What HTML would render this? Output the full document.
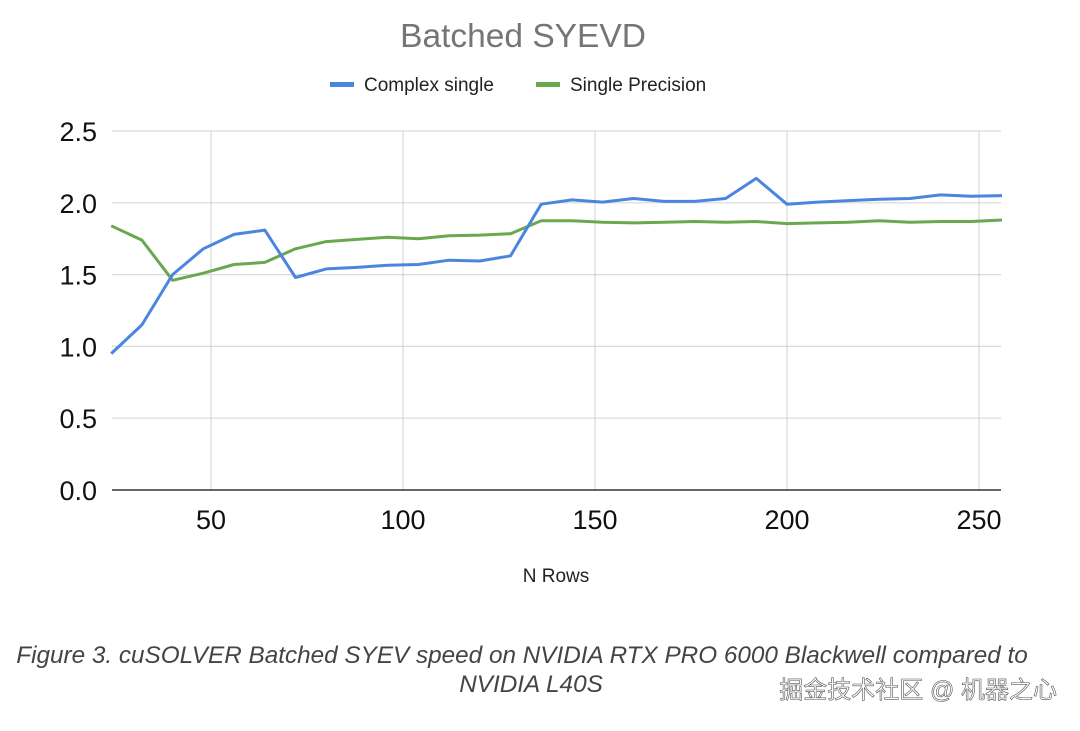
<!DOCTYPE html>
<html><head><meta charset="utf-8"><style>
body{margin:0;background:#fff;width:1080px;height:726px;overflow:hidden;font-family:"Liberation Sans",sans-serif}
</style></head><body>
<svg id="s" width="1080" height="726" xmlns="http://www.w3.org/2000/svg" font-family="Liberation Sans, sans-serif">
<text x="523" y="47" font-size="33.5" fill="#757575" text-anchor="middle">Batched SYEVD</text>
<rect x="330" y="82" width="24" height="5" fill="#4a86e0"/>
<text x="364" y="91" font-size="19" fill="#222">Complex single</text>
<rect x="536" y="82" width="24" height="5" fill="#6aa84f"/>
<text x="570" y="91" font-size="19" fill="#222">Single Precision</text>
<g id="grid" stroke="#d9d9d9" stroke-width="1.2"></g>
<line x1="112" y1="490" x2="1001" y2="490" stroke="#333" stroke-width="1.5"/>
<g id="lab" font-size="27" fill="#111"></g>
<text x="556" y="582" font-size="19" fill="#222" text-anchor="middle">N Rows</text>
<path id="g" fill="none" stroke="#6aa84f" stroke-width="3" stroke-linejoin="round"/>
<path id="b" fill="none" stroke="#4a86e0" stroke-width="3" stroke-linejoin="round"/>
<text x="522" y="663" font-size="24.3" font-style="italic" fill="#444" text-anchor="middle">Figure 3. cuSOLVER Batched SYEV speed on NVIDIA RTX PRO 6000 Blackwell compared to</text>
<text x="531" y="692" font-size="24.3" font-style="italic" fill="#444" text-anchor="middle">NVIDIA L40S</text>
<text x="1057" y="698" font-size="24" fill="#fff" stroke="#555" stroke-width="0.6" text-anchor="end" font-family="Liberation Sans, Noto Sans CJK SC, sans-serif">掘金技术社区 @ 机器之心</text>
</svg>
<script>
var X=function(v){return 211+(v-50)*3.84},Y=function(v){return 490-v*143.6};
var ns="http://www.w3.org/2000/svg",gr=document.getElementById('grid'),lab=document.getElementById('lab');
function el(p,t,a,txt){var e=document.createElementNS(ns,t);for(var k in a)e.setAttribute(k,a[k]);if(txt)e.textContent=txt;p.appendChild(e);}
[0.5,1,1.5,2,2.5].forEach(function(v){el(gr,'line',{x1:112,x2:1001,y1:Y(v),y2:Y(v)})});
[50,100,150,200,250].forEach(function(v){el(gr,'line',{x1:X(v),x2:X(v),y1:131,y2:490})});
[0,0.5,1,1.5,2,2.5].forEach(function(v){el(lab,'text',{x:97,y:Y(v)+10,'text-anchor':'end'},v.toFixed(1))});
[50,100,150,200,250].forEach(function(v){el(lab,'text',{x:X(v),y:529,'text-anchor':'middle'},v)});
var B=[0.95,1.15,1.5,1.68,1.78,1.81,1.48,1.54,1.55,1.565,1.57,1.6,1.595,1.63,1.99,2.02,2.005,2.03,2.01,2.01,2.03,2.17,1.99,2.005,2.015,2.025,2.03,2.055,2.045,2.05];
var G=[1.84,1.74,1.46,1.51,1.57,1.585,1.68,1.73,1.745,1.76,1.75,1.77,1.775,1.785,1.875,1.875,1.865,1.86,1.865,1.87,1.865,1.87,1.855,1.86,1.865,1.875,1.865,1.87,1.87,1.88];
function d(a){return a.map(function(v,i){return(i?'L':'M')+X(24+8*i).toFixed(1)+' '+Y(v).toFixed(1)}).join('')}
document.getElementById('b').setAttribute('d',d(B));document.getElementById('g').setAttribute('d',d(G));
</script>
</body></html>
